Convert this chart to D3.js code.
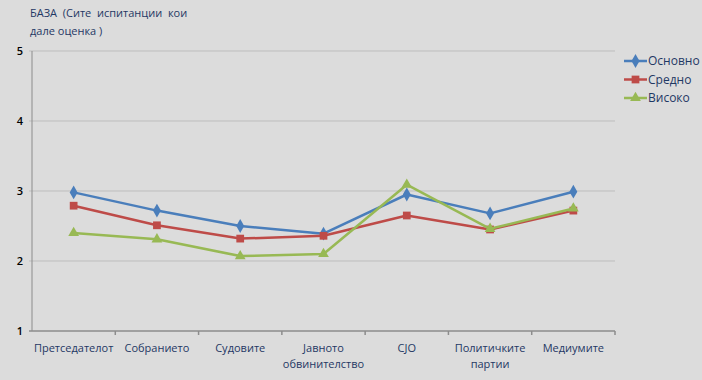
<!DOCTYPE html>
<html>
<head>
<meta charset="utf-8">
<script src="https://cdn.jsdelivr.net/npm/d3@7"></script>
<style>
  body { margin: 0; background: #dcdcdc; }
  svg { display: block; font-family: "Open Sans", "DejaVu Sans", sans-serif; }
</style>
</head>
<body>
<div id="chart"></div>
<script>
const categories = ["Претседателот", "Собранието", "Судовите", "Јавното\nобвинителство", "СЈО", "Политичките\nпартии", "Медиумите"];
const seriesNames = ["Основно", "Средно", "Високо"];
const osnovno = [2.98, 2.72, 2.50, 2.39, 2.95, 2.68, 2.99];
const sredno = [2.79, 2.51, 2.32, 2.36, 2.65, 2.45, 2.72];
const visoko = [2.40, 2.31, 2.07, 2.10, 3.09, 2.46, 2.75];
const yTicks = [1, 2, 3, 4, 5];

const colors = ["#4a7ebb", "#be4b48", "#98b954"];
const symbols = [d3.symbolDiamond, d3.symbolSquare, d3.symbolTriangle];
const symbolSizes = [55, 60, 50];

const width = 702, height = 380;
const margin = {top: 51, right: 87, bottom: 49, left: 32};

const svg = d3.select("#chart").append("svg")
    .attr("width", width)
    .attr("height", height);

svg.append("rect").attr("width", width).attr("height", height).attr("fill", "#dcdcdc");

// title (keeps the double spaces)
const title = svg.append("text")
    .attr("x", 30)
    .attr("y", 17)
    .attr("fill", "#1f3864")
    .style("white-space", "pre")
    .style("font-size", "11px");
title.append("tspan").attr("x", 30).text("БАЗА  (Сите  испитанции  кои");
title.append("tspan").attr("x", 30).attr("dy", 18).text("дале оценка )");

let x = d3.scaleBand()
    .domain(categories)
    .range([margin.left, width - margin.right])
    .padding(0);

let y = d3.scaleLinear()
    .domain([1, 5])
    .range([height - margin.bottom, margin.top]);

// gridlines
svg.append("g")
    .selectAll("line")
    .data(yTicks.slice(1))
    .enter().append("line")
    .attr("x1", margin.left - 3)
    .attr("x2", width - margin.right)
    .attr("y1", d => y(d))
    .attr("y2", d => y(d))
    .attr("stroke", "#bdbdbd")
    .attr("stroke-width", 1);

// y axis
svg.append("line")
    .attr("x1", margin.left).attr("x2", margin.left)
    .attr("y1", y(5)).attr("y2", y(1))
    .attr("stroke", "#8c8c8c");

svg.append("g")
    .selectAll("text")
    .data(yTicks)
    .enter().append("text")
    .attr("x", margin.left - 9)
    .attr("y", d => y(d) + 4)
    .attr("text-anchor", "end")
    .attr("fill", "#000")
    .style("font-size", "11px")
    .style("font-weight", "600")
    .text(d => d);

// x axis line
svg.append("path")
    .attr("d", `M${margin.left - 3},${y(1)}H${width - margin.right}`)
    .attr("stroke", "#8c8c8c")
    .attr("stroke-width", 1.5);

// tick marks at band boundaries
svg.append("g")
    .selectAll("line")
    .data(categories)
    .enter().append("line")
    .attr("x1", d => x(d) + x.bandwidth())
    .attr("x2", d => x(d) + x.bandwidth())
    .attr("y1", y(1))
    .attr("y2", y(1) + 4)
    .attr("stroke", "#8c8c8c")
    .attr("stroke-width", 1.5);

// category labels
let labels = svg.append("g")
    .selectAll("text")
    .data(categories)
    .enter().append("text")
    .attr("x", d => x(d) + x.bandwidth() / 2)
    .attr("y", y(1) + 21)
    .attr("text-anchor", "middle")
    .attr("fill", "#1f3864")
    .style("font-size", "11px");

labels.each(function(d) {
    let t = d3.select(this);
    d.split("\n").forEach((line, i) => {
        t.append("tspan")
            .attr("x", x(d) + x.bandwidth() / 2)
            .attr("dy", i === 0 ? 0 : 16)
            .text(line);
    });
});

// lines
const allSeries = [osnovno, sredno, visoko];
let line = d3.line()
    .x((d, i) => x(categories[i]) + x.bandwidth() / 2)
    .y(d => y(d));

allSeries.forEach((values, s) => {
    svg.append("path")
        .datum(values)
        .attr("fill", "none")
        .attr("stroke", colors[s])
        .attr("stroke-width", 2.5)
        .attr("stroke-linejoin", "round")
        .attr("d", line);

    svg.append("g")
        .selectAll("path")
        .data(values)
        .enter().append("path")
        .attr("transform", (d, i) => `translate(${x(categories[i]) + x.bandwidth() / 2}, ${y(d)})`)
        .attr("d", d3.symbol().type(symbols[s]).size(symbolSizes[s]))
        .attr("fill", colors[s]);
});

// legend
let legend = svg.append("g")
    .attr("transform", "translate(624, 61)");

seriesNames.forEach((name, i) => {
    let g = legend.append("g").attr("transform", `translate(0, ${i * 18.5})`);
    g.append("line")
        .attr("x1", 0).attr("x2", 23)
        .attr("stroke", colors[i])
        .attr("stroke-width", 2.5);
    g.append("path")
        .attr("transform", "translate(11.5, 0)")
        .attr("d", d3.symbol().type(symbols[i]).size(symbolSizes[i]))
        .attr("fill", colors[i]);
    g.append("text")
        .attr("x", 24)
        .attr("y", 4)
        .attr("fill", "#1f3864")
        .style("font-size", "12px")
        .text(name);
});
</script>
</body>
</html>
